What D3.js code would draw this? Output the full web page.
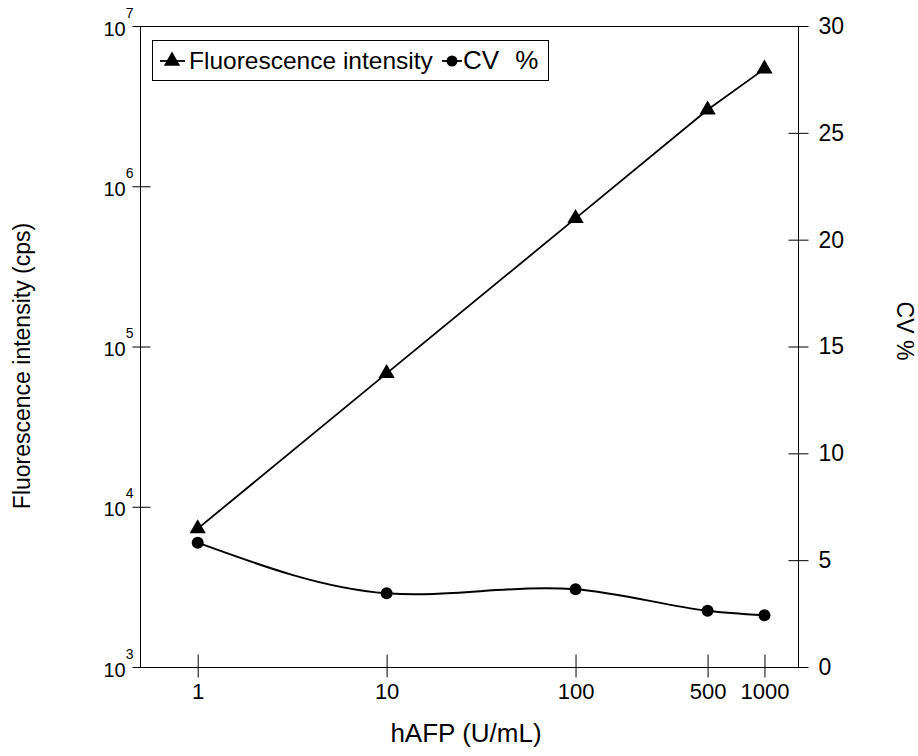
<!DOCTYPE html>
<html>
<head>
<meta charset="utf-8">
<script src="https://cdn.jsdelivr.net/npm/d3@7"></script>
<style>
  body { margin: 0; background: #fff; }
  svg { display: block; font-family: "Liberation Sans", Arial, Helvetica, sans-serif; }
</style>
</head>
<body>
<script>
// data
var concentrations = [1, 10, 100, 500, 1000];
var intensity = [7300, 68000, 630000, 3000000, 5400000];
var cvPercent = [5.82, 3.45, 3.64, 2.63, 2.42];
var xTicks = [1, 10, 100, 500, 1000];
var leftTicks = [1e3, 1e4, 1e5, 1e6, 1e7];
var rightTicks = [0, 5, 10, 15, 20, 25, 30];

window.onload = drawChart();

//natural cubic spline along x, used as a d3 curve
function curveSplineX(context) {
    var xs, ys;
    return {
        areaStart: function() {},
        areaEnd: function() {},
        lineStart: function() { xs = []; ys = []; },
        point: function(x, y) { xs.push(+x); ys.push(+y); },
        lineEnd: function() {
            var n = xs.length;
            if (!n) return;
            context.moveTo(xs[0], ys[0]);
            if (n < 3) { if (n === 2) context.lineTo(xs[1], ys[1]); return; }
            var h = [], i;
            for (i = 0; i < n - 1; i++) h.push(xs[i + 1] - xs[i]);
            // tridiagonal solve for second derivatives, natural ends
            var a = [], b = [], c = [], r = [];
            for (i = 1; i < n - 1; i++) {
                a.push(h[i - 1]);
                b.push(2 * (h[i - 1] + h[i]));
                c.push(h[i]);
                r.push(6 * ((ys[i + 1] - ys[i]) / h[i] - (ys[i] - ys[i - 1]) / h[i - 1]));
            }
            var m = r.length;
            for (i = 1; i < m; i++) {
                var w = a[i] / b[i - 1];
                b[i] -= w * c[i - 1];
                r[i] -= w * r[i - 1];
            }
            var M = new Array(n).fill(0);
            M[m] = r[m - 1] / b[m - 1];
            for (i = m - 2; i >= 0; i--) M[i + 1] = (r[i] - c[i] * M[i + 2]) / b[i];
            for (i = 0; i < n - 1; i++) {
                var s = (ys[i + 1] - ys[i]) / h[i];
                var d0 = s - h[i] * (2 * M[i] + M[i + 1]) / 6;
                var d1 = s + h[i] * (M[i] + 2 * M[i + 1]) / 6;
                context.bezierCurveTo(
                    xs[i] + h[i] / 3, ys[i] + d0 * h[i] / 3,
                    xs[i + 1] - h[i] / 3, ys[i + 1] - d1 * h[i] / 3,
                    xs[i + 1], ys[i + 1]);
            }
        }
    };
}

function drawChart() {
    var width = 918,
        height = 756;

    var svg = d3.select("body")
        .append("svg")
        .attr("width", width)
        .attr("height", height);

    // plot frame edges
    var pLeft = 140, pRight = 798, pTop = 26, pBottom = 667;

    var x = d3.scaleLog().domain([0.495, 1505]).range([pLeft, pRight]);
    var yL = d3.scaleLog().domain([1e3, 1e7]).range([pBottom, pTop]);
    var yR = d3.scaleLinear().domain([0, 30]).range([pBottom, pTop]);

    svg.append("rect")
        .attr("x", pLeft + 0.5)
        .attr("y", pTop + 0.5)
        .attr("width", pRight - pLeft)
        .attr("height", pBottom - pTop)
        .attr("fill", "none")
        .attr("stroke", "#000")
        .attr("stroke-width", 1);

    //bottom axis
    var xAxis = svg.append("g")
        .attr("transform", "translate(0," + (pBottom + 0.5) + ")")
        .call(d3.axisBottom(x).tickValues(xTicks).tickFormat(d3.format("d")).tickSize(10).tickPadding(6));
    xAxis.select(".domain").remove();
    xAxis.selectAll(".tick line").attr("y1", -13).attr("stroke", "#000");
    xAxis.selectAll("text").attr("font-size", 22).attr("fill", "#000").attr("font-family", null);

    //left axis with powers of ten
    var yAxis = svg.append("g")
        .attr("transform", "translate(" + (pLeft + 0.5) + ",0)")
        .call(d3.axisLeft(yL).tickValues(leftTicks).tickFormat("").tickSize(8));
    yAxis.select(".domain").remove();
    yAxis.selectAll(".tick line").attr("x1", 10).attr("stroke", "#000");
    yAxis.selectAll(".tick text").remove();
    var lab = yAxis.selectAll(".tick")
        .append("text")
        .attr("x", -7)
        .attr("y", 9)
        .attr("text-anchor", "end")
        .attr("fill", "#000");
    lab.append("tspan").attr("font-size", 20).text("10");
    lab.append("tspan")
        .attr("font-size", 14)
        .attr("dy", -18)
        .text(function(d) { return Math.round(Math.log10(d)); });

    //right axis
    var rAxis = svg.append("g")
        .attr("transform", "translate(" + (pRight + 0.5) + ",0)")
        .call(d3.axisRight(yR).tickValues(rightTicks).tickSize(10).tickPadding(10));
    rAxis.select(".domain").remove();
    rAxis.selectAll(".tick line").attr("x1", -10).attr("stroke", "#000");
    rAxis.selectAll("text").attr("font-size", 23).attr("fill", "#000").attr("font-family", null);

    //axis titles
    svg.append("text")
        .attr("x", 466)
        .attr("y", 742)
        .attr("text-anchor", "middle")
        .attr("font-size", 26)
        .text("hAFP (U/mL)");

    svg.append("text")
        .attr("transform", "translate(30,366) rotate(-90)")
        .attr("text-anchor", "middle")
        .attr("font-size", 23)
        .text("Fluorescence intensity (cps)");

    svg.append("text")
        .attr("transform", "translate(897,331) rotate(90)")
        .attr("text-anchor", "middle")
        .attr("font-size", 23)
        .text("CV %");

    var fiData = concentrations.map(function(c, i) { return {c: c, v: intensity[i]}; });
    var cvData = concentrations.map(function(c, i) { return {c: c, v: cvPercent[i]}; });

    //CV curve, smoothed
    var cvLine = d3.line()
        .x(function(d) { return x(d.c); })
        .y(function(d) { return yR(d.v); })
        .curve(curveSplineX);

    svg.append("path")
        .datum(cvData)
        .attr("d", cvLine)
        .attr("fill", "none")
        .attr("stroke", "#000")
        .attr("stroke-width", 2);

    svg.selectAll(".cvDot")
        .data(cvData)
        .enter()
        .append("circle")
        .attr("class", "cvDot")
        .attr("cx", function(d) { return x(d.c); })
        .attr("cy", function(d) { return yR(d.v); })
        .attr("r", 6)
        .attr("fill", "#000");

    //intensity line
    var fiLine = d3.line()
        .x(function(d) { return x(d.c); })
        .y(function(d) { return yL(d.v); });

    svg.append("path")
        .datum(fiData)
        .attr("d", fiLine)
        .attr("fill", "none")
        .attr("stroke", "#000")
        .attr("stroke-width", 1.8);

    var tri = d3.symbol().type(d3.symbolTriangle).size(115);

    svg.selectAll(".fiDot")
        .data(fiData)
        .enter()
        .append("path")
        .attr("class", "fiDot")
        .attr("d", tri)
        .attr("transform", function(d) { return "translate(" + x(d.c) + "," + yL(d.v) + ")"; })
        .attr("fill", "#000");

    //legend
    var legend = svg.append("g");
    legend.append("rect")
        .attr("x", 152.5)
        .attr("y", 40.5)
        .attr("width", 396)
        .attr("height", 40)
        .attr("fill", "#fff")
        .attr("stroke", "#000");

    legend.append("line")
        .attr("x1", 160).attr("x2", 185)
        .attr("y1", 61).attr("y2", 61)
        .attr("stroke", "#000").attr("stroke-width", 1.8);
    legend.append("path")
        .attr("d", tri)
        .attr("transform", "translate(172,61)")
        .attr("fill", "#000");
    legend.append("text")
        .attr("x", 189)
        .attr("y", 69)
        .attr("font-size", 24.5)
        .text("Fluorescence intensity");

    legend.append("line")
        .attr("x1", 442).attr("x2", 462)
        .attr("y1", 61).attr("y2", 61)
        .attr("stroke", "#000").attr("stroke-width", 1.8);
    legend.append("circle")
        .attr("cx", 452).attr("cy", 61).attr("r", 5.5)
        .attr("fill", "#000");
    legend.append("text")
        .attr("x", 463)
        .attr("y", 69)
        .attr("font-size", 26)
        .attr("word-spacing", 9)
        .text("CV %");
}
</script>
</body>
</html>
